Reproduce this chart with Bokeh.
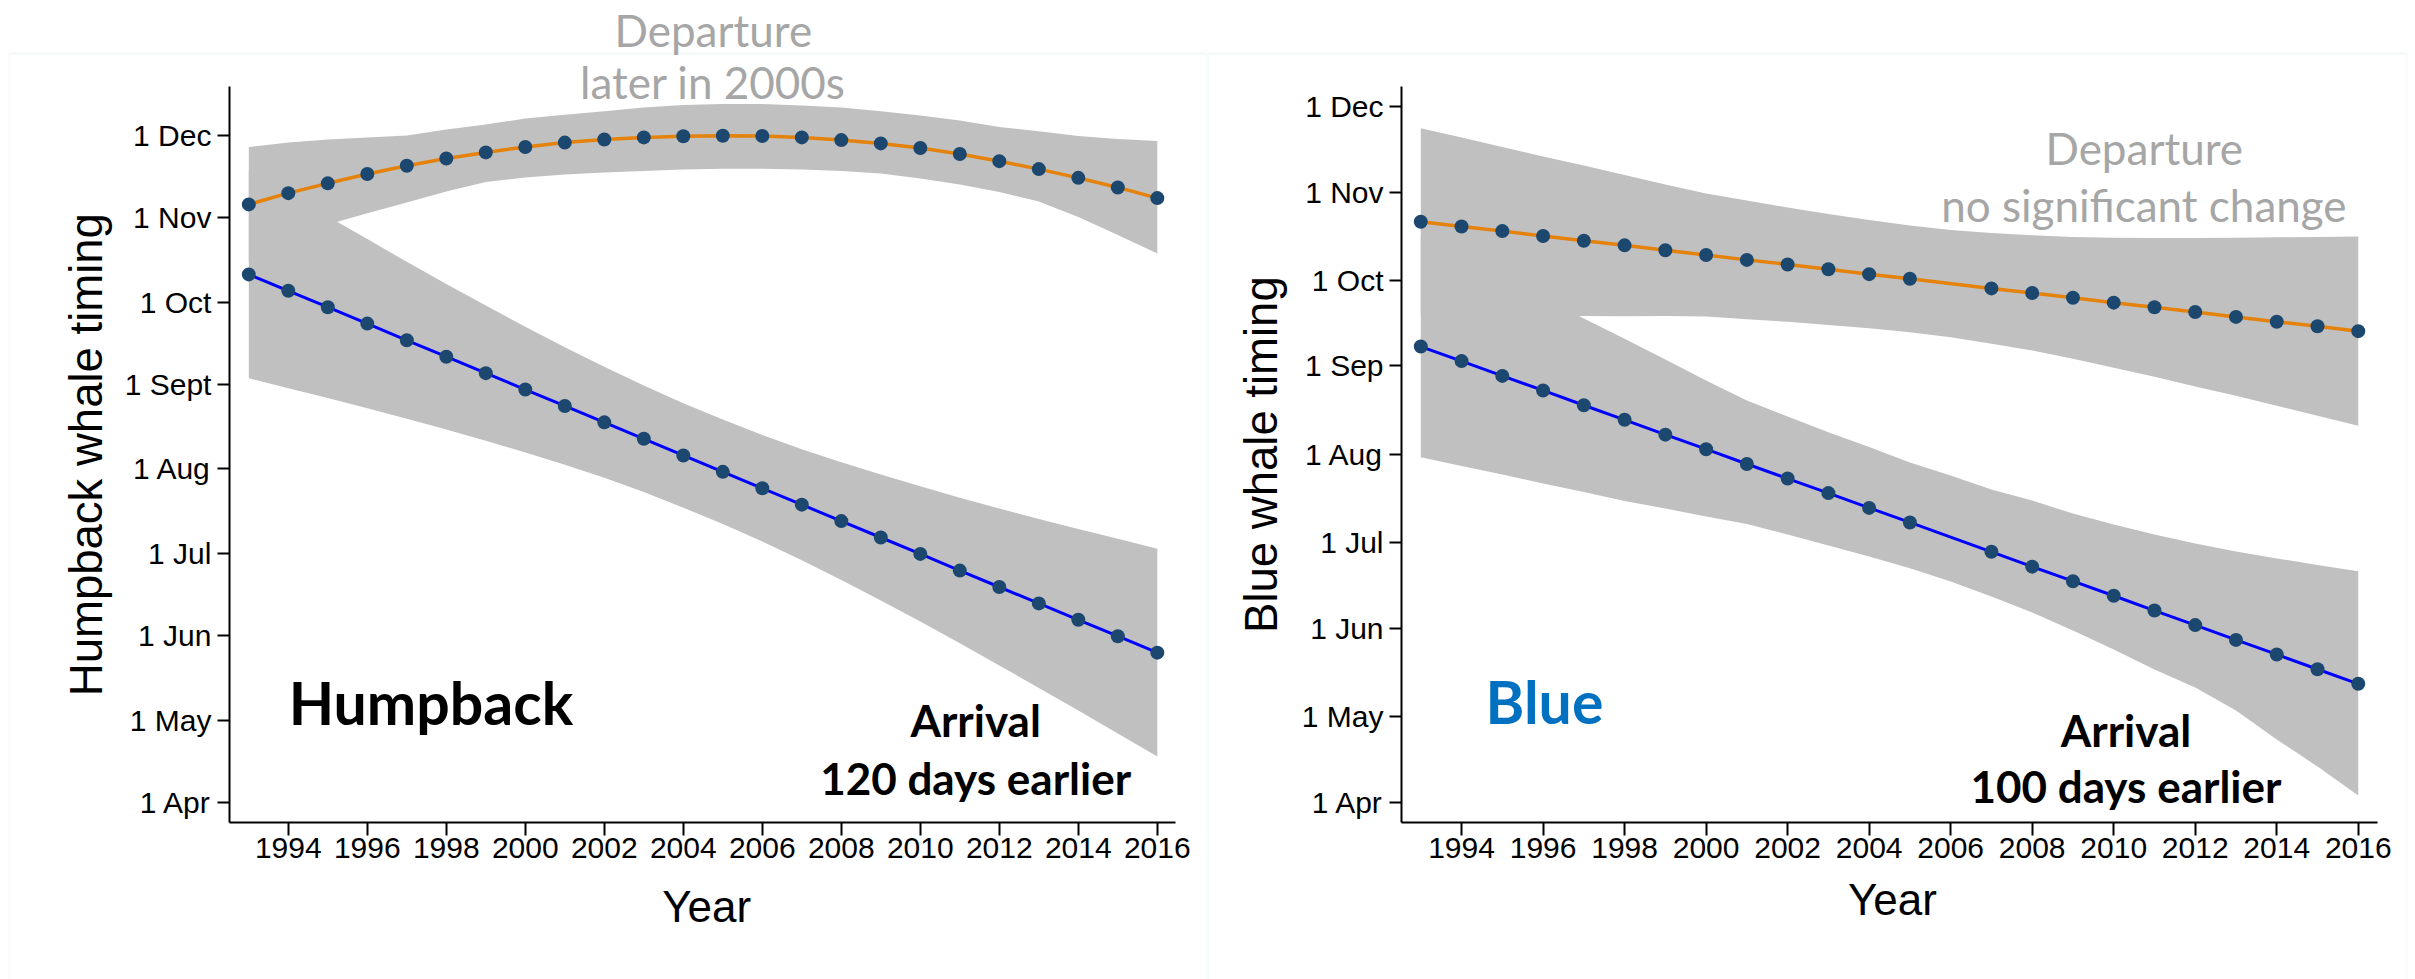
import math
from bokeh.plotting import figure
from bokeh.models import Label, FixedTicker, BoxAnnotation, Range1d
from bokeh.layouts import row
from bokeh.embed import file_html
from bokeh.resources import INLINE

# ---------------- data ----------------
band_years = [1993, 1994, 1995, 1996, 1997, 1998, 1999, 2000, 2001, 2002, 2003, 2004,
              2005, 2006, 2007, 2008, 2009, 2010, 2011, 2012, 2013, 2014, 2015, 2016]

# Humpback (day of year)
hb_years = [1993, 1994, 1995, 1996, 1997, 1998, 1999, 2000, 2001, 2002, 2003, 2004,
            2005, 2006, 2007, 2008, 2009, 2010, 2011, 2012, 2013, 2014, 2015, 2016]
hb_departure = [309.7, 313.8, 317.4, 320.8, 323.8, 326.5, 328.7, 330.7, 332.3, 333.4, 334.2, 334.6,
                334.8, 334.7, 334.2, 333.2, 332.0, 330.3, 328.1, 325.5, 322.6, 319.4, 315.9, 312.0]
hb_dep_upper = [330.7, 332.3, 333.4, 334.2, 334.9, 337.1, 338.9, 341.1, 342.5, 343.8, 345.1, 346.0,
                346.4, 346.4, 345.9, 345.1, 343.8, 342.2, 340.4, 338.0, 336.4, 334.7, 333.6, 332.9]
hb_dep_lower = [288.8, 295.8, 302.3, 306.5, 310.4, 314.4, 317.9, 319.5, 320.6, 321.4, 321.9, 322.5,
                322.7, 322.7, 322.5, 321.9, 321.0, 319.2, 317.0, 314.2, 310.8, 305.1, 298.5, 291.7]
hb_arrival = [284.1, 278.1, 272.1, 266.1, 260.0, 254.0, 248.0, 242.0, 236.0, 230.0, 224.0, 217.9,
              211.9, 205.9, 199.9, 193.9, 187.9, 181.9, 175.8, 169.8, 163.8, 157.8, 151.8, 145.8]
hb_arr_upper = [322.1, 313.7, 305.3, 297.0, 288.7, 280.6, 272.7, 265.0, 257.5, 250.3, 243.5, 237.0,
                231.0, 225.4, 220.2, 215.4, 210.9, 206.6, 202.4, 198.5, 194.7, 191.0, 187.4, 183.8]
hb_arr_lower = [246.1, 242.5, 238.9, 235.2, 231.3, 227.4, 223.3, 219.0, 214.5, 209.7, 204.5, 198.8,
                192.8, 186.4, 179.6, 172.4, 164.9, 157.2, 149.2, 141.1, 132.9, 124.6, 116.2, 107.8]

# Blue whale (day of year) -- no 2006 observation
bw_years = [1993, 1994, 1995, 1996, 1997, 1998, 1999, 2000, 2001, 2002, 2003, 2004,
            2005, 2007, 2008, 2009, 2010, 2011, 2012, 2013, 2014, 2015, 2016]
bw_departure = [294.6, 292.9, 291.3, 289.6, 287.9, 286.3, 284.6, 282.9, 281.2, 279.6, 277.9, 276.2,
                274.6, 271.2, 269.6, 267.9, 266.2, 264.6, 262.9, 261.2, 259.5, 257.9, 256.2]
bw_arrival = [250.8, 245.7, 240.5, 235.4, 230.2, 225.1, 219.9, 214.8, 209.6, 204.5, 199.4, 194.2,
              189.1, 178.8, 173.6, 168.5, 163.4, 158.2, 153.1, 147.9, 142.8, 137.6, 132.5]
bw_dep_upper = [327.4, 324.1, 320.8, 317.5, 314.3, 311.0, 307.6, 304.5, 302.0, 299.6, 297.3, 295.2,
                293.3, 291.7, 290.6, 289.8, 289.2, 289.0, 288.9, 288.9, 289.0, 289.1, 289.2, 289.4]
bw_dep_lower = [261.7, 261.6, 261.7, 261.6, 261.5, 261.4, 261.5, 261.3, 260.4, 259.5, 258.4, 257.2,
                255.8, 254.1, 251.8, 249.4, 246.5, 243.4, 240.2, 236.8, 233.5, 230.0, 226.5, 223.0]
bw_arr_upper = [289.8, 282.0, 274.7, 268.0, 260.6, 253.5, 246.3, 238.9, 231.9, 226.3, 220.7, 215.6,
                210.1, 205.6, 200.7, 196.8, 192.2, 188.4, 184.9, 181.7, 178.9, 176.5, 174.2, 172.0]
bw_arr_lower = [212.0, 208.9, 205.9, 202.8, 199.8, 196.6, 194.0, 191.2, 188.6, 184.9, 181.0, 177.2,
                173.0, 168.4, 163.1, 157.5, 151.2, 144.5, 137.5, 131.2, 123.1, 113.0, 103.5, 93.3]

# ticks
y_ticks = [91, 121, 152, 182, 213, 244, 274, 305, 335]
hb_y_labels = ["1 Apr", "1 May", "1 Jun", "1 Jul", "1 Aug", "1 Sept", "1 Oct", "1 Nov", "1 Dec"]
bw_y_labels = ["1 Apr", "1 May", "1 Jun", "1 Jul", "1 Aug", "1 Sep", "1 Oct", "1 Nov", "1 Dec"]
x_ticks = [1994, 1996, 1998, 2000, 2002, 2004, 2006, 2008, 2010, 2012, 2014, 2016]

# ---------------- style ----------------
BAND = "#c0c0c0"
ORANGE = "#e5820c"
BLUE = "#0000ff"
DOT = "#1c476f"
GREY_TXT = "#a6a6a6"
BORDER = "#e6eff3"
TICK_FONT = "Liberation Sans"
ANN_FONT = "Lato"
H = 979


def make_fig(width, xr, yr, xb, yb, ylabels, mb_left, mb_right, panel_top):
    p = figure(width=width, height=H, x_range=Range1d(*xr), y_range=Range1d(*yr),
               output_backend="svg", toolbar_location=None,
               min_border_left=mb_left, min_border_right=mb_right,
               min_border_top=0, min_border_bottom=0)
    p.background_fill_color = "white"
    p.border_fill_color = "white"
    p.outline_line_color = None
    p.grid.visible = False

    xa = p.xaxis[0]
    ya = p.yaxis[0]
    xa.fixed_location = yb[0]
    xa.bounds = xb
    ya.fixed_location = xb[0]
    ya.bounds = yb
    xa.ticker = FixedTicker(ticks=x_ticks, minor_ticks=[])
    ya.ticker = FixedTicker(ticks=y_ticks, minor_ticks=[])
    ya.major_label_overrides = {t: l for t, l in zip(y_ticks, ylabels)}
    for ax in (xa, ya):
        ax.axis_line_width = 2
        ax.axis_line_color = "black"
        ax.major_tick_line_width = 2
        ax.major_tick_line_color = "black"
        ax.major_tick_in = 0
        ax.minor_tick_line_color = None
        ax.major_label_text_font = TICK_FONT
        ax.major_label_text_font_size = "30px"
        ax.major_label_text_color = "black"
    xa.major_tick_out = 13
    ya.major_tick_out = 12
    xa.major_label_standoff = 2
    ya.major_label_standoff = 6

    # light panel border (open at the bottom, like the reference)
    p.add_layout(BoxAnnotation(left=xr[0], right=xr[1], top=panel_top, bottom=yr[0] - 40,
                               fill_color=None, fill_alpha=0, line_color=BORDER, line_width=3,
                               level="underlay"))
    return p


def draw(p, dep_up, dep_lo, arr_up, arr_lo, pyears, dep, arr):
    p.varea(x=band_years, y1=dep_lo, y2=dep_up, fill_color=BAND)
    p.varea(x=band_years, y1=arr_lo, y2=arr_up, fill_color=BAND)
    p.line(pyears, dep, line_color=ORANGE, line_width=3.5)
    p.line(pyears, arr, line_color=BLUE, line_width=3)
    p.scatter(pyears, dep, size=14, fill_color=DOT, line_color=None)
    p.scatter(pyears, arr, size=14, fill_color=DOT, line_color=None)


def lab(p, x, y, text, size, color="black", font=ANN_FONT, style="normal", align="center", angle=0.0):
    p.add_layout(Label(x=x, y=y, text=text, text_font=font, text_font_size=size,
                       text_font_style=style, text_color=color, text_align=align,
                       text_baseline="middle", angle=angle))


# ---------------- humpback panel ----------------
p1 = make_fig(1207, (1986.9165, 2017.2705), (26.28, 384.25),
              (1992.51, 2016.47), (83.68, 352.81), hb_y_labels, 8, 0, 364.87)
draw(p1, hb_dep_upper, hb_dep_lower, hb_arr_upper, hb_arr_lower, hb_years, hb_departure, hb_arrival)
lab(p1, 2004.76, 373.6, "Departure", "44px", GREY_TXT)
lab(p1, 2004.75, 354.3, "later in 2000s", "44px", GREY_TXT)
lab(p1, 1994.01, 127.7, "Humpback", "59px", style="bold", align="left")
lab(p1, 2011.40, 121.1, "Arrival", "44px", style="bold")
lab(p1, 2011.40, 100.1, "120 days earlier", "44px", style="bold")
lab(p1, 1988.90, 218.2, "Humpback whale timing", "45.5px", font=TICK_FONT, angle=math.pi / 2)
lab(p1, 2004.59, 53.0, "Year", "44px", font=TICK_FONT)

# ---------------- blue whale panel ----------------
p2 = make_fig(1208, (1987.767, 2017.208), (28.79, 372.18),
              (1992.527, 2016.464), (83.76, 342.0), bw_y_labels, 0, 8, 353.59)
draw(p2, bw_dep_upper, bw_dep_lower, bw_arr_upper, bw_arr_lower, bw_years, bw_departure, bw_arrival)
lab(p2, 2010.75, 320.6, "Departure", "44px", GREY_TXT)
lab(p2, 2010.74, 300.5, "no significant change", "44px", GREY_TXT)
lab(p2, 1994.59, 126.4, "Blue", "59px", color="#0070c0", style="bold", align="left")
lab(p2, 2010.30, 116.3, "Arrival", "44px", style="bold")
lab(p2, 2010.30, 96.5, "100 days earlier", "44px", style="bold")
lab(p2, 1989.08, 212.9, "Blue whale timing", "45.5px", font=TICK_FONT, angle=math.pi / 2)
lab(p2, 2004.57, 56.8, "Year", "44px", font=TICK_FONT)

layout = row(p1, p2)
open("out.html", "w").write(file_html(layout, INLINE))
